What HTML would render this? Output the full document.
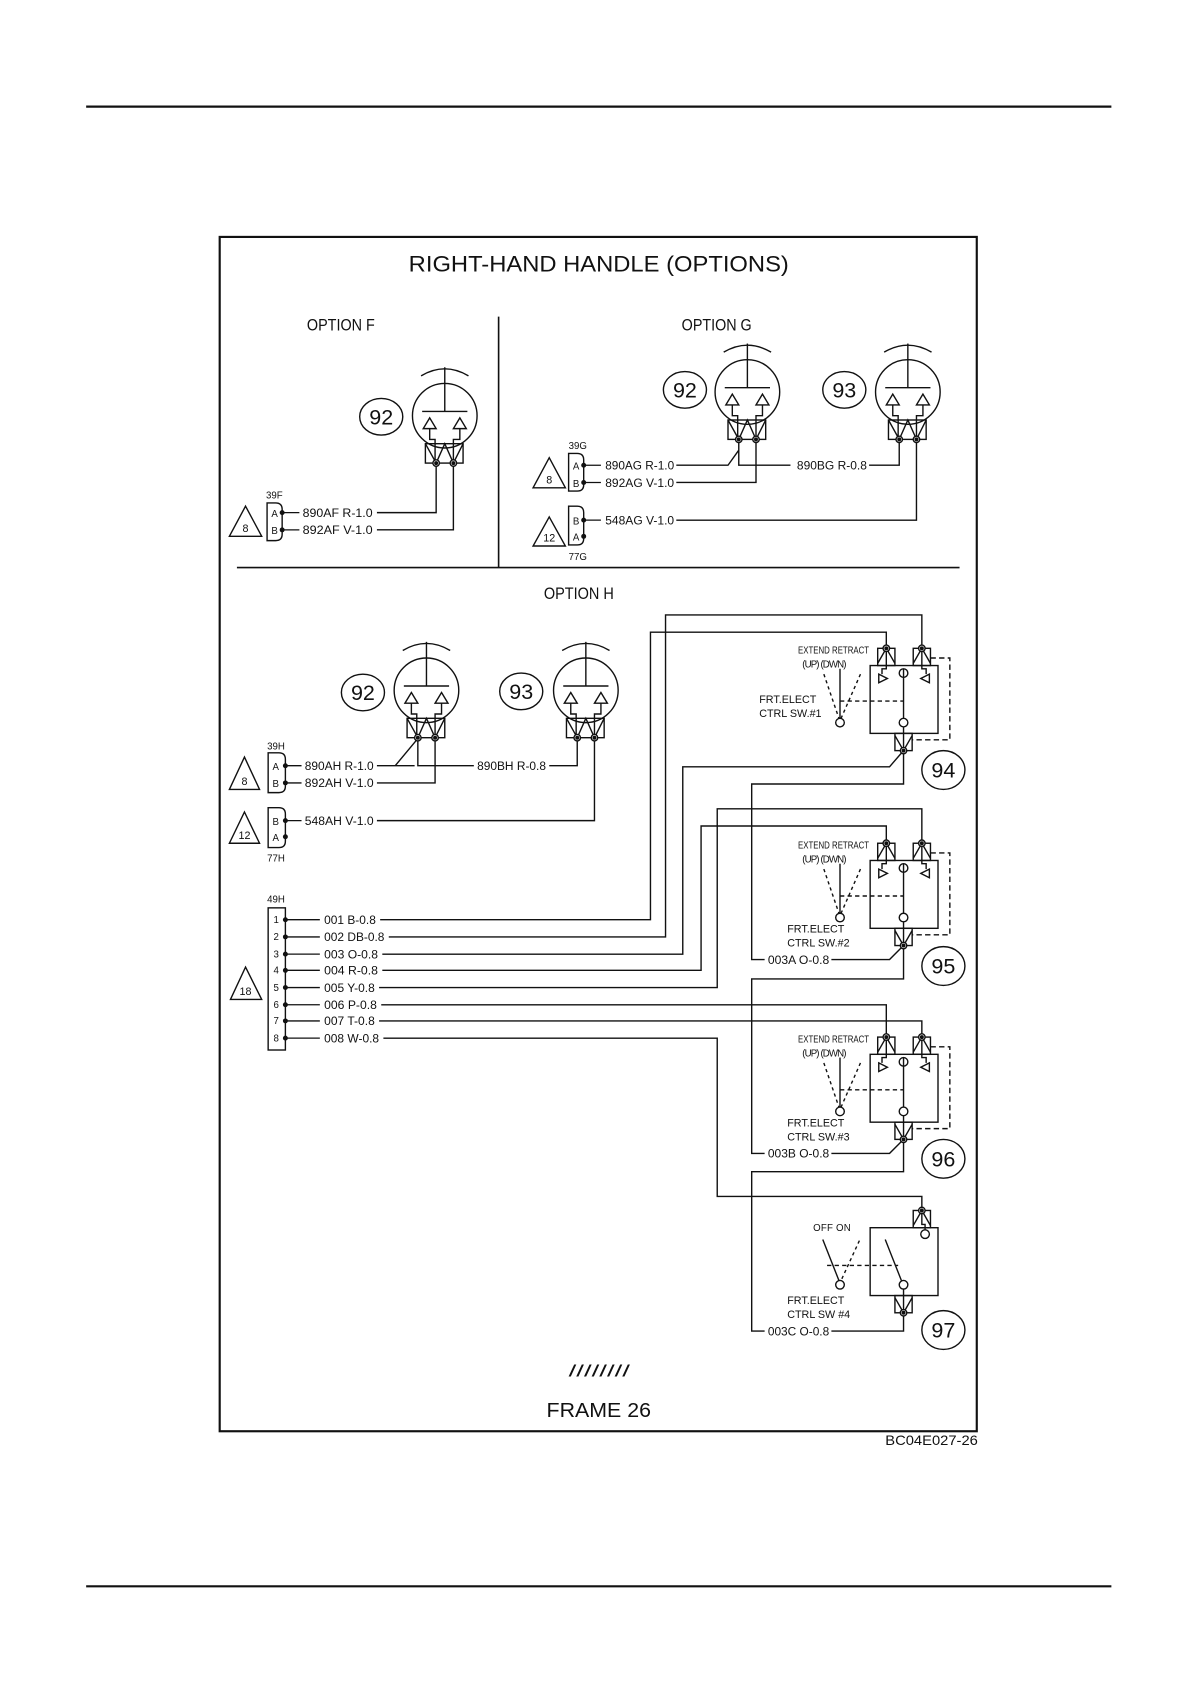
<!DOCTYPE html>
<html><head><meta charset="utf-8"><style>
html,body{margin:0;padding:0;background:#fff;}
svg{display:block;}
text{font-family:"Liberation Sans",sans-serif;fill:#111;}
</style></head><body>
<svg width="1190" height="1684" viewBox="0 0 1105 1563.7" preserveAspectRatio="none" xmlns="http://www.w3.org/2000/svg">
<defs>
<g id="hd" fill="none" stroke="#111" stroke-width="1.3">
 <circle cx="0" cy="0" r="30"/>
 <path d="M-22,-37 Q0,-50 22,-37"/>
 <line x1="0" y1="-45" x2="0" y2="-4"/>
 <line x1="-21" y1="-4" x2="21" y2="-4"/>
 <path d="M-14,2 L-20,12 L-8,12 Z M14,2 L8,12 L20,12 Z" fill="#fff"/>
 <path d="M-14,12 V22 H-9 V44 M14,12 V22 H8 V44"/>
 <rect x="-18" y="26" width="35" height="18"/>
 <path d="M-18,26 L-8,44 L0,26 L8,44 L17,26"/>
 <circle cx="-8" cy="44" r="3" fill="#fff"/><circle cx="8" cy="44" r="3" fill="#fff"/>
 <circle cx="-8" cy="44" r="1.2" fill="#111"/><circle cx="8" cy="44" r="1.2" fill="#111"/>
</g>
<g id="sw" fill="none" stroke="#111" stroke-width="1.3">
 <rect x="0" y="0" width="63" height="63"/>
 <rect x="7" y="-16" width="16" height="16"/><rect x="40" y="-16" width="16" height="16"/>
 <path d="M7,-2 L15,-16 L23,-2 M40,-2 L48,-16 L56,-2"/>
 <path d="M15,-16 V3 H11 V8 M48,-16 V3 H52 V8"/>
 <path d="M8,8 L16,12 L8,16Z M55,8 L47,12 L55,16Z"/>
 <circle cx="15" cy="-16" r="3" fill="#fff"/><circle cx="48" cy="-16" r="3" fill="#fff"/>
 <circle cx="15" cy="-16" r="1.2" fill="#111"/><circle cx="48" cy="-16" r="1.2" fill="#111"/>
 <circle cx="31" cy="7" r="4"/><line x1="31" y1="3" x2="31" y2="49"/>
 <circle cx="31" cy="53" r="4"/><line x1="31" y1="57" x2="31" y2="79"/>
 <rect x="23" y="63" width="16" height="16"/><path d="M23,65 L31,79 L39,65"/>
 <circle cx="31" cy="79" r="3" fill="#fff"/><circle cx="31" cy="79" r="1.2" fill="#111"/>
 <path d="M56,-7 H74 V69 H39" stroke-dasharray="5,3"/>
 <line x1="-28" y1="33" x2="31" y2="33" stroke-dasharray="4,3"/>
 <line x1="-28" y1="3" x2="-28" y2="49"/>
 <circle cx="-28" cy="53" r="4"/>
 <path d="M-43,8 L-29,49 M-9,8 L-27,49" stroke-dasharray="3,3"/>
 <text x="-67" y="-11" font-size="9" stroke="none" fill="#111" textLength="66" lengthAdjust="spacingAndGlyphs">EXTEND RETRACT</text>
 <text x="-63" y="2" font-size="9" stroke="none" fill="#111" textLength="41" lengthAdjust="spacing">(UP)  (DWN)</text>
</g>
</defs>

<line x1="80" y1="99" x2="1032" y2="99" stroke="#111" stroke-width="2"/>
<line x1="80" y1="1473" x2="1032" y2="1473" stroke="#111" stroke-width="2"/>
<rect x="204" y="220" width="703" height="1109" fill="none" stroke="#111" stroke-width="2"/>
<text x="556" y="252" font-size="21" text-anchor="middle" textLength="353" lengthAdjust="spacingAndGlyphs">RIGHT-HAND HANDLE (OPTIONS)</text>
<text x="285" y="307" font-size="15" textLength="63" lengthAdjust="spacingAndGlyphs">OPTION F</text>
<text x="633" y="307" font-size="15" textLength="65" lengthAdjust="spacingAndGlyphs">OPTION G</text>
<text x="505" y="556" font-size="15" textLength="65" lengthAdjust="spacingAndGlyphs">OPTION H</text>
<line x1="463" y1="294" x2="463" y2="527" stroke="#111" stroke-width="1.5"/>
<line x1="220" y1="527" x2="891" y2="527" stroke="#111" stroke-width="1.5"/>
<text x="528" y="1278" font-size="15" textLength="57" lengthAdjust="spacingAndGlyphs">////////</text>
<text x="556" y="1316" font-size="19" text-anchor="middle" textLength="97" lengthAdjust="spacingAndGlyphs">FRAME 26</text>
<text x="822" y="1342" font-size="13" textLength="86" lengthAdjust="spacingAndGlyphs">BC04E027-26</text>

<g fill="none" stroke="#111" stroke-width="1.3">
<ellipse cx="354" cy="387" rx="20" ry="17"/>
<ellipse cx="636" cy="362" rx="20" ry="17"/>
<ellipse cx="784" cy="362" rx="20" ry="17"/>
<ellipse cx="337" cy="643" rx="20" ry="17"/>
<ellipse cx="484" cy="642" rx="20" ry="17"/>
<ellipse cx="876" cy="715" rx="20" ry="18"/>
<ellipse cx="876" cy="897" rx="20" ry="18"/>
<ellipse cx="876" cy="1076" rx="20" ry="18"/>
<ellipse cx="876" cy="1235" rx="20" ry="18"/>
<path d="M228,470 L243,498 L213,498 Z"/>
<path d="M510,425 L525,453 L495,453 Z"/>
<path d="M510,480 L525,507 L495,507 Z"/>
<path d="M227,703 L241,733 L213,733 Z"/>
<path d="M227,754 L241,783 L213,783 Z"/>
<path d="M228,898 L243,928 L214,928 Z"/>
<path d="M248,467 H256 Q262,467 262,473 V496 Q262,502 256,502 H248 Z"/>
<path d="M528,421 H536 Q542,421 542,427 V450 Q542,456 536,456 H528 Z"/>
<path d="M528,470 H536 Q542,470 542,476 V500 Q542,506 536,506 H528 Z"/>
<path d="M249,699 H259 Q265,699 265,705 V730 Q265,736 259,736 H249 Z"/>
<path d="M249,750 H259 Q265,750 265,756 V781 Q265,787 259,787 H249 Z"/>
<rect x="249" y="843" width="16" height="132"/>
<path d="M350,476 H405 V430 M350,492 H421 V430"/>
<path d="M628,432 H676 L686,418 M686,408 V432 H734 M807,432 H835 V408 M628,448 H702 V408 M628,483 H851 V408"/>
<path d="M350,711 H385 M367,711 L387,687 M388,685 V711 H440 M510,711 H536 V685 M350,727 H404 V685 M350,762 H552 V685"/>
<path d="M353,854 H604 V587 H823 V602"/>
<path d="M361,870 H618 V571 H856 V602"/>
<path d="M355,886 H634 V712 H826 L839,697"/>
<path d="M355,901 H651 V767 H823 V783"/>
<path d="M352,917 H666 V751 H856 V783"/>
<path d="M354,933 H823 V963"/>
<path d="M352,948 H856 V963"/>
<path d="M356,964 H666 V1111 H856 V1126"/>
<path d="M839,697 V728 H698 V891 H710 M772,891 H826 L839,878"/>
<path d="M839,878 V909 H698 V1071 H710 M772,1071 H826 L839,1058"/>
<path d="M839,1058 V1088 H698 V1236 H710 M772,1236 H839 V1219"/>
</g>
<use href="#hd" x="413" y="386"/>
<use href="#hd" x="694" y="364"/>
<use href="#hd" x="843" y="364"/>
<use href="#hd" x="396" y="641"/>
<use href="#hd" x="544" y="641"/>
<use href="#sw" x="808" y="618"/>
<use href="#sw" x="808" y="799"/>
<use href="#sw" x="808" y="979"/>
<g fill="none" stroke="#111" stroke-width="1.3" transform="translate(808,1140)">
 <rect x="0" y="0" width="63" height="63"/>
 <rect x="40" y="-16" width="16" height="16"/><path d="M40,-2 L48,-16 L56,-2"/>
 <path d="M48,-16 V-3 H51 V2"/><circle cx="51" cy="6" r="4"/>
 <circle cx="48" cy="-16" r="3" fill="#fff"/><circle cx="48" cy="-16" r="1.2" fill="#111"/>
 <line x1="14" y1="11" x2="29" y2="49"/><circle cx="31" cy="53" r="4"/>
 <line x1="31" y1="57" x2="31" y2="79"/>
 <rect x="23" y="63" width="16" height="16"/><path d="M23,65 L31,79 L39,65"/>
 <circle cx="31" cy="79" r="3" fill="#fff"/><circle cx="31" cy="79" r="1.2" fill="#111"/>
 <line x1="-44" y1="11" x2="-29" y2="49"/>
 <line x1="-10" y1="12" x2="-27" y2="49" stroke-dasharray="3,3"/>
 <circle cx="-28" cy="53" r="4"/>
 <line x1="-40" y1="35" x2="26" y2="35" stroke-dasharray="4,3"/>
</g>
<text x="755" y="1143" font-size="9" textLength="35" lengthAdjust="spacing">OFF   ON</text>

<g fill="#111">
<circle cx="262" cy="476" r="2.3"/><circle cx="262" cy="492" r="2.3"/>
<circle cx="542" cy="432" r="2.3"/><circle cx="542" cy="448" r="2.3"/>
<circle cx="542" cy="483" r="2.3"/><circle cx="542" cy="498" r="2.3"/>
<circle cx="265" cy="711" r="2.3"/><circle cx="265" cy="727" r="2.3"/>
<circle cx="265" cy="762" r="2.3"/><circle cx="265" cy="777" r="2.3"/>
<circle cx="265" cy="854" r="2.3"/><circle cx="265" cy="870" r="2.3"/><circle cx="265" cy="886" r="2.3"/><circle cx="265" cy="901" r="2.3"/>
<circle cx="265" cy="917" r="2.3"/><circle cx="265" cy="933" r="2.3"/><circle cx="265" cy="948" r="2.3"/><circle cx="265" cy="964" r="2.3"/>
</g>
<g stroke="#111" stroke-width="1.2">
<path d="M262,476 H278 M262,492 H278 M542,432 H558 M542,448 H558 M542,483 H558 M265,711 H280 M265,727 H280 M265,762 H280"/>
<path d="M265,854 H297 M265,870 H297 M265,886 H297 M265,901 H297 M265,917 H297 M265,933 H297 M265,948 H297 M265,964 H297"/>
</g>

<g font-size="20" text-anchor="middle">
<text x="354" y="394">92</text><text x="636" y="369">92</text><text x="784" y="369">93</text>
<text x="337" y="650">92</text><text x="484" y="649">93</text>
<text x="876" y="722">94</text><text x="876" y="904">95</text><text x="876" y="1083">96</text><text x="876" y="1242">97</text>
</g>
<g font-size="10" text-anchor="middle">
<text x="228" y="494">8</text><text x="510" y="449">8</text><text x="510" y="503">12</text>
<text x="227" y="729">8</text><text x="227" y="779">12</text><text x="228" y="924">18</text>
</g>
<g font-size="9">
<text x="247" y="463">39F</text><text x="252" y="480">A</text><text x="252" y="496">B</text>
<text x="528" y="417">39G</text><text x="532" y="436">A</text><text x="532" y="452">B</text>
<text x="532" y="487">B</text><text x="532" y="502">A</text><text x="528" y="520">77G</text>
<text x="248" y="696">39H</text><text x="253" y="715">A</text><text x="253" y="731">B</text>
<text x="253" y="766">B</text><text x="253" y="781">A</text><text x="248" y="800">77H</text>
<text x="248" y="838">49H</text>
<text x="254" y="857">1</text><text x="254" y="873">2</text><text x="254" y="889">3</text><text x="254" y="904">4</text>
<text x="254" y="920">5</text><text x="254" y="936">6</text><text x="254" y="951">7</text><text x="254" y="967">8</text>
</g>
<g font-size="11.5">
<text x="281" y="480" textLength="65" lengthAdjust="spacingAndGlyphs">890AF R-1.0</text>
<text x="281" y="496" textLength="65" lengthAdjust="spacingAndGlyphs">892AF V-1.0</text>
<text x="562" y="436" textLength="64" lengthAdjust="spacingAndGlyphs">890AG R-1.0</text>
<text x="562" y="452" textLength="64" lengthAdjust="spacingAndGlyphs">892AG V-1.0</text>
<text x="740" y="436" textLength="65" lengthAdjust="spacingAndGlyphs">890BG R-0.8</text>
<text x="562" y="487" textLength="64" lengthAdjust="spacingAndGlyphs">548AG V-1.0</text>
<text x="283" y="715" textLength="64" lengthAdjust="spacingAndGlyphs">890AH R-1.0</text>
<text x="283" y="731" textLength="64" lengthAdjust="spacingAndGlyphs">892AH V-1.0</text>
<text x="443" y="715" textLength="64" lengthAdjust="spacingAndGlyphs">890BH R-0.8</text>
<text x="283" y="766" textLength="64" lengthAdjust="spacingAndGlyphs">548AH V-1.0</text>
<text x="301" y="858" textLength="48" lengthAdjust="spacingAndGlyphs">001 B-0.8</text>
<text x="301" y="874" textLength="56" lengthAdjust="spacingAndGlyphs">002 DB-0.8</text>
<text x="301" y="890" textLength="50" lengthAdjust="spacingAndGlyphs">003 O-0.8</text>
<text x="301" y="905" textLength="50" lengthAdjust="spacingAndGlyphs">004 R-0.8</text>
<text x="301" y="921" textLength="47" lengthAdjust="spacingAndGlyphs">005 Y-0.8</text>
<text x="301" y="937" textLength="49" lengthAdjust="spacingAndGlyphs">006 P-0.8</text>
<text x="301" y="952" textLength="47" lengthAdjust="spacingAndGlyphs">007 T-0.8</text>
<text x="301" y="968" textLength="51" lengthAdjust="spacingAndGlyphs">008 W-0.8</text>
<text x="713" y="895" textLength="57" lengthAdjust="spacingAndGlyphs">003A O-0.8</text>
<text x="713" y="1075" textLength="57" lengthAdjust="spacingAndGlyphs">003B O-0.8</text>
<text x="713" y="1240" textLength="57" lengthAdjust="spacingAndGlyphs">003C O-0.8</text>
</g>
<g font-size="10">
<text x="705" y="653">FRT.ELECT</text><text x="705" y="666">CTRL SW.#1</text>
<text x="731" y="866">FRT.ELECT</text><text x="731" y="879">CTRL SW.#2</text>
<text x="731" y="1046">FRT.ELECT</text><text x="731" y="1059">CTRL SW.#3</text>
<text x="731" y="1211">FRT.ELECT</text><text x="731" y="1224">CTRL SW #4</text>
</g>
</svg>
</body></html>
